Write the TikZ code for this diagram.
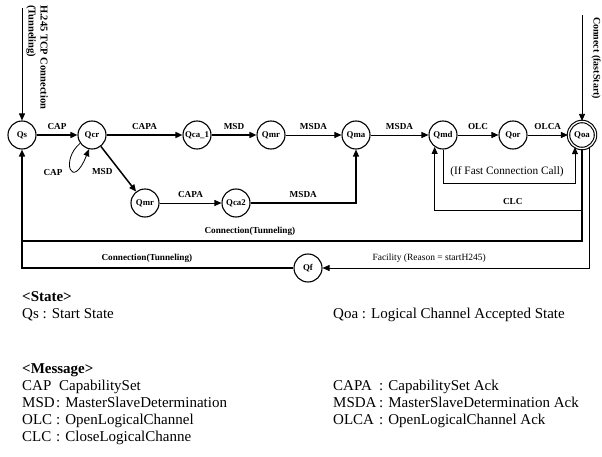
\documentclass[tikz,border=0pt]{standalone}
\usepackage{fontspec}
\setmainfont{Liberation Serif}
\usetikzlibrary{arrows.meta}
\begin{document}
\begin{tikzpicture}[x=1pt,y=-1pt,
  st/.style={circle,draw,line width=1.1pt,minimum size=28pt,inner sep=0pt,font=\bfseries\fontsize{8.8}{10}\selectfont},
  lab/.style={font=\bfseries\fontsize{9.2}{11}\selectfont,inner sep=1pt},
  note/.style={font=\fontsize{9.5}{11}\selectfont,inner sep=1pt},
  tipa/.style={-{Triangle[length=7pt,width=6pt]}},
  thinarr/.style={line width=0.8pt,tipa},
  thickarr/.style={line width=1.5pt,tipa},
  leg/.style={anchor=base west,inner sep=0pt,font=\fontsize{15}{17}\selectfont},
  legb/.style={leg,font=\bfseries\fontsize{15}{17}\selectfont}]
\useasboundingbox (0,0) rectangle (602,457);

% states
\node[st] (qs)   at (22,135)  {Qs};
\node[st] (qcr)  at (92,135)  {Qcr};
\node[st] (qca1) at (197,135) {Qca\_1};
\node[st] (qmr)  at (271,135) {Qmr};
\node[st] (qma)  at (356,135) {Qma};
\node[st] (qmd)  at (443,135) {Qmd};
\node[st] (qor)  at (513,135) {Qor};
\node[st,double,double distance=1.3pt,minimum size=27pt] (qoa) at (582,135) {Qoa};
\node[st] (qmr2) at (145,203) {Qmr};
\node[st] (qca2) at (236,203) {Qca2};
\node[st] (qf)   at (308,268) {Qf};

% helper levels
\coordinate (in1) at (22,8);
\coordinate (in2) at (582,15);
\coordinate (yfast) at (0,183);
\coordinate (yclc) at (0,210);
\coordinate (ycon) at (0,241);
\coordinate (yfac) at (0,268);

% incoming arrows
\draw[thinarr] (in1) -- (qs);
\node[lab,font=\bfseries\fontsize{10.5}{12}\selectfont,rotate=-90,align=left,anchor=north west] (t1) at (49,4)
  {H.245 TCP Connection\\(Tunneling)};
\draw[thinarr] (in2) -- (qoa);
\node[lab,font=\bfseries\fontsize{10}{12}\selectfont,rotate=-90,anchor=west] (t2) at (596,16) {Connect (fastStart)};

% main row
\draw[thickarr] (qs) -- node[lab,above=4pt]{CAP} (qcr);
\draw[thickarr] (qcr) -- node[lab,above=4pt]{CAPA} (qca1);
\draw[thickarr] (qca1) -- node[lab,above=4pt]{MSD} (qmr);
\draw[thinarr] (qmr) -- node[lab,above=4pt]{MSDA} (qma);
\draw[thinarr] (qma) -- node[lab,above=4pt]{MSDA} (qmd);
\draw[thinarr] (qmd) -- node[lab,above=4pt]{OLC} (qor);
\draw[thinarr] (qor) -- node[lab,above=4pt]{OLCA} (qoa);

% self loop on Qcr
\draw[line width=0.8pt,tipa] (qcr.215) .. controls (60,160) and (72,192) .. (qcr.258);
\node[lab] (lcap) at (53,172) {CAP};

% lower branch
\draw[thickarr] (qcr) -- node[lab,pos=0.55,left=6pt]{MSD} (qmr2);
\draw[thinarr] (qmr2) -- node[lab,above=4pt]{CAPA} (qca2);
\draw[line width=1.1pt,tipa] (qca2.east) -- node[lab,above=4pt]{MSDA} (qca2.east -| qma.south) -- (qma.south);

% fast connection
\draw[thinarr] (qmd.south) -- (qmd.south |- yfast) -- (qoa.240 |- yfast) -- (qoa.240);
\node[note,font=\fontsize{11.3}{13}\selectfont] (lfast) at (507,172) {(If Fast Connection Call)};

% CLC
\draw[thinarr] (qoa.south) -- (qoa.south |- yclc) -- node[lab,above=4pt,pos=0.47]{CLC} (qmd.235 |- yclc) -- (qmd.235);

% connection (tunneling) back to Qs
\draw[thickarr] (qoa.south) -- (qoa.south |- ycon) -- node[lab,above=4pt,pos=0.593]{Connection(Tunneling)} (qs.south |- ycon) -- (qs.south);

% facility
\draw[thinarr] (qoa.300) -- (qoa.300 |- yfac) -- node[note,above=4pt,pos=0.6]{Facility (Reason = startH245)} (qf.east);
\draw[line width=1.5pt] (qf.west) -- node[lab,above=4pt,pos=0.54]{Connection(Tunneling)} (qs.south |- yfac) -- (qs.south |- ycon);

% legend
\node[legb] (s0) at (22,301) {<State>};
\node[leg] (s1) at (22,318) {Qs : Start State};
\node[leg] (s2) at (333,318) {Qoa : Logical Channel Accepted State};
\node[legb] (m0) at (22,373) {<Message>};
\node[leg] (a1) at (22,390) {CAP};
\node[leg] (d1) at (59,390) {CapabilitySet};
\node[leg] (a2) at (22,407) {MSD};
\node[leg] (d2) at (56,407) {: MasterSlaveDetermination};
\node[leg] (a3) at (22,424) {OLC};
\node[leg] (d3) at (56,424) {: OpenLogicalChannel};
\node[leg] (a4) at (22,441) {CLC};
\node[leg] (d4) at (56,441) {: CloseLogicalChanne};
\node[leg] (b1) at (333,390) {CAPA};
\node[leg] (e1) at (379,390) {: CapabilitySet Ack};
\node[leg] (b2) at (333,407) {MSDA};
\node[leg] (e2) at (379,407) {: MasterSlaveDetermination Ack};
\node[leg] (b3) at (333,424) {OLCA};
\node[leg] (e3) at (379,424) {: OpenLogicalChannel Ack};
\end{tikzpicture}
\end{document}
